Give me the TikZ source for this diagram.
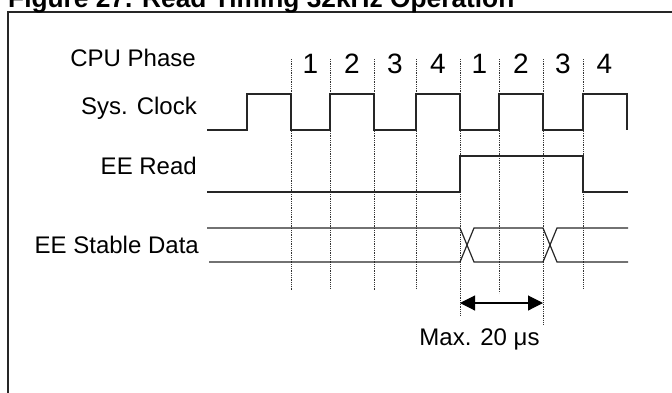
\documentclass[tikz,border=0pt]{standalone}
\usepackage{fontspec}
\setmainfont{Liberation Sans}
\usetikzlibrary{arrows.meta}
\tikzset{
  sig/.style={line width=1.2pt, draw=black!85, line join=miter},
  grid/.style={line width=0.9pt, draw=black!80, dash pattern=on 0.9pt off 0.9pt},
  lbl/.style={anchor=base east, inner sep=0pt, font=\fontsize{24}{28}\selectfont},
  phase/.style={anchor=base, inner sep=0pt, font=\fontsize{28}{32}\selectfont},
  dim/.style={line width=1.1pt, {Triangle[length=15pt,width=15pt]}-{Triangle[length=15pt,width=15pt]}},
}
\begin{document}
\begin{tikzpicture}[x=1pt,y=-1pt]
\useasboundingbox (0,0) rectangle (672,392);
\clip (0,0) rectangle (672,392);
% frame and title
\draw[line width=1.3pt, draw=black!85] (8,12) rectangle (690,410);
\node[anchor=base west, inner sep=0pt, font=\fontsize{26.3}{30}\bfseries\selectfont] (title) at (8,7.5) {Figure 27. Read Timing 32kHz Operation};
% labels
\node[lbl] (lphase) at (196,66) {CPU Phase};
\node[lbl] (lclk) at (197,114) {Sys. Clock};
\node[lbl] (lread) at (197,174) {EE Read};
\node[lbl] (ldata) at (199,253) {EE Stable Data};
% dotted phase lines
\foreach \x/\b in {291/290, 330/289, 374/291, 416/288, 460/316, 499/293, 543/325, 583/289}
  \draw[grid] (\x,59) -- (\x,\b);
% phase numbers
\foreach \n/\x in {1/310.5, 2/352, 3/395, 4/438, 1/479.5, 2/521, 3/563, 4/604.5}
  \node[phase] at (\x,73) {\n};
% system clock
\draw[sig] (207,130) -- (247,130) -- (247,94) -- (291,94) -- (291,130) -- (330,130) -- (330,94) -- (374,94) -- (374,130) -- (416,130) -- (416,94) -- (460,94) -- (460,130) -- (499,130) -- (499,94) -- (543,94) -- (543,130) -- (583,130) -- (583,94) -- (627,94) -- (627,130);
% EE read
\draw[sig] (207,192) -- (460,192) -- (460,156) -- (583,156) -- (583,192) -- (628,192);
% EE stable data
\draw[sig] (207,228) -- (460,228) -- (474,262) -- (543,262) -- (557,228) -- (628,228);
\draw[sig] (209,262) -- (460,262) -- (474,228) -- (543,228) -- (557,262) -- (628,262);
% max time arrow
\coordinate (ta) at (460,303);
\coordinate (tb) at (543,303);
\draw[dim] (ta) -- (tb);
\node[anchor=base, inner sep=0pt, font=\fontsize{24}{28}\selectfont] (maxt) at (479.5,345) {Max. 20 μs};
\end{tikzpicture}
\end{document}
